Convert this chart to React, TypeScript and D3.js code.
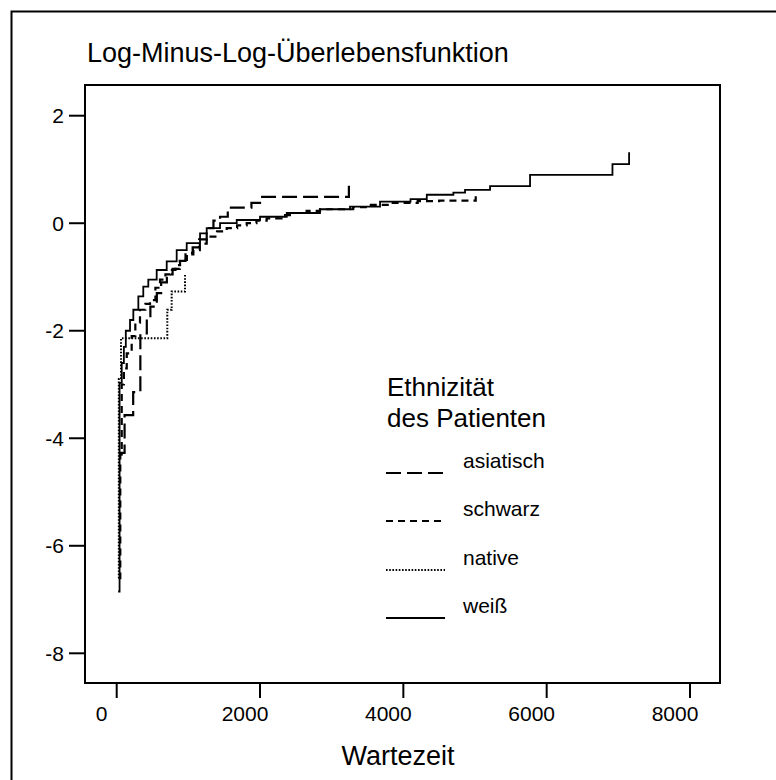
import React from "react";
import * as d3 from "d3";

const xTicks = [0, 2000, 4000, 6000, 8000];
const yTicks = [2, 0, -2, -4, -6, -8];

const seriesNames = ["asiatisch", "schwarz", "native", "weiß"];

const asiatischT = [40, 60, 110, 230, 330, 420, 470, 560, 620, 700, 780, 880, 960, 1060, 1150, 1256, 1350, 1442, 1550, 1880, 2000, 3240];
const asiatischV = [-4.3, -4.27, -3.57, -3.14, -2.05, -1.75, -1.55, -1.3, -1.1, -0.95, -0.85, -0.7, -0.55, -0.45, -0.3, -0.09, 0.05, 0.12, 0.29, 0.38, 0.49, 0.75];

const schwarzT = [30, 50, 70, 100, 140, 209, 260, 325, 400, 465, 540, 604, 680, 744, 820, 884, 980, 1070, 1160, 1256, 1400, 1535, 1680, 1814, 1950, 2093, 2300, 2465, 2650, 2837, 3300, 3500, 3800, 4200, 4500, 5010];
const schwarzV = [-6.6, -4.3, -3.0, -2.7, -2.42, -2.1, -1.85, -1.61, -1.5, -1.43, -1.2, -1.05, -0.95, -0.87, -0.78, -0.68, -0.58, -0.5, -0.38, -0.25, -0.15, -0.09, -0.04, 0.0, 0.05, 0.09, 0.15, 0.19, 0.23, 0.26, 0.3, 0.34, 0.38, 0.41, 0.42, 0.5];

const nativeT = [25, 30, 60, 706, 767, 953];
const nativeV = [-6.6, -2.9, -2.14, -1.61, -1.27, -0.96];

const weissT = [20, 40, 70, 100, 127, 186, 232, 302, 371, 441, 558, 698, 837, 977, 1163, 1256, 1442, 1675, 2000, 2373, 2837, 3256, 3675, 4100, 4327, 4698, 4861, 5210, 5768, 6918, 7150];
const weissV = [-6.85, -2.97, -2.6, -2.3, -2.0, -1.8, -1.61, -1.36, -1.18, -1.05, -0.87, -0.71, -0.5, -0.37, -0.19, -0.09, 0.0, 0.06, 0.12, 0.19, 0.26, 0.31, 0.4, 0.45, 0.53, 0.57, 0.62, 0.69, 0.9, 1.1, 1.32];

const dashes = ["15,6", "7,5", "1.6,1.6", "none"];
const widths = [2.2, 2.2, 2, 1.8];

const FONT = "'Liberation Sans', Arial, sans-serif";

export default function App() {
  const x = d3.scaleLinear().domain([0, 8000]).range([116.7, 690]);
  const y = d3.scaleLinear().domain([-8, 2]).range([653.3, 115.7]);
  const plot = { left: 85, top: 85, right: 720, bottom: 683 };

  const data = [
    d3.zip(asiatischT, asiatischV),
    d3.zip(schwarzT, schwarzV),
    d3.zip(nativeT, nativeV),
    d3.zip(weissT, weissV),
  ];
  const line = d3
    .line<number[]>()
    .x((d) => x(d[0]))
    .y((d) => y(d[1]))
    .curve(d3.curveStepAfter);

  const legY = [473, 521, 570, 618];

  return (
    <svg
      width={776}
      height={780}
      style={{ position: "absolute", left: 0, top: 0, background: "#fff" }}
      fontFamily={FONT}
    >
      <rect x={0} y={0} width={776} height={780} fill="#fff" />
      <rect x={11.5} y={11.5} width={800} height={800} fill="none" stroke="#000" strokeWidth={2} />
      <text x={87} y={62} fontSize={27} fill="#000">
        Log-Minus-Log-Überlebensfunktion
      </text>

      <rect
        x={plot.left}
        y={plot.top}
        width={plot.right - plot.left}
        height={plot.bottom - plot.top}
        fill="none"
        stroke="#000"
        strokeWidth={2}
      />

      {yTicks.map((t) => (
        <g key={"y" + t}>
          <line x1={69} x2={plot.left} y1={y(t)} y2={y(t)} stroke="#000" strokeWidth={2} />
          <text x={64} y={y(t) + 7.5} fontSize={21} textAnchor="end" fill="#000">
            {t}
          </text>
        </g>
      ))}
      {xTicks.map((t) => (
        <g key={"x" + t}>
          <line x1={x(t)} x2={x(t)} y1={plot.bottom} y2={plot.bottom + 15} stroke="#000" strokeWidth={2} />
          <text x={x(t) - 15} y={721} fontSize={21} textAnchor="middle" fill="#000">
            {t}
          </text>
        </g>
      ))}
      <text x={398} y={765} fontSize={27} textAnchor="middle" fill="#000">
        Wartezeit
      </text>

      {data.map((d, i) => (
        <path
          key={"s" + i}
          d={line(d as number[][]) || ""}
          fill="none"
          stroke="#000"
          strokeWidth={widths[i]}
          strokeDasharray={dashes[i]}
        />
      ))}

      <text x={387} y={396} fontSize={26} fill="#000">Ethnizität</text>
      <text x={387} y={427} fontSize={26} fill="#000">des Patienten</text>
      {seriesNames.map((n, i) => (
        <g key={n}>
          <line x1={386} x2={445} y1={legY[i]} y2={legY[i]} stroke="#000" strokeWidth={widths[i]} strokeDasharray={dashes[i]} />
          <text x={463} y={legY[i] - 5} fontSize={21} fill="#000">{n}</text>
        </g>
      ))}
    </svg>
  );
}
